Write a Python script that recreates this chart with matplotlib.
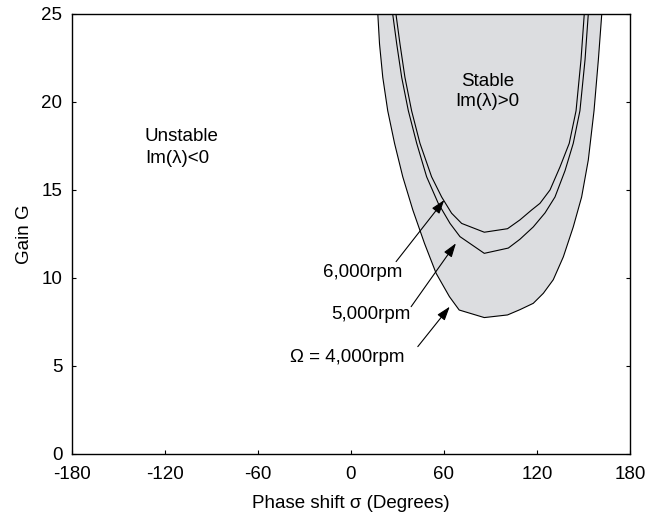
import numpy as np
import matplotlib
matplotlib.use("Agg")
import matplotlib.pyplot as plt

plt.rcParams["font.family"] = ["Liberation Sans", "DejaVu Sans"]
plt.rcParams["axes.unicode_minus"] = False

# Stability boundaries (phase shift in degrees, gain G)
phase_4000 = [17.3, 18.4, 20.5, 23.7, 28.1, 33.4, 39.9, 47.4, 54.9, 63.5, 69.8,
              86.0, 101.0, 109.0, 117.6, 124.1, 130.5, 137.0, 143.4, 148.8,
              153.1, 156.8, 159.6, 161.8]
gain_4000 = [25.0, 23.3, 21.4, 19.5, 17.65, 15.75, 13.86, 11.97, 10.27, 8.94, 8.18,
             7.75, 7.9, 8.2, 8.56, 9.13, 9.9, 11.2, 12.9, 14.6,
             16.7, 19.5, 22.4, 25.0]

phase_5000 = [26.9, 29.5, 32.7, 37.0, 42.4, 48.8, 56.3, 63.9, 70.3, 86.0, 101.5,
              109.0, 117.6, 125.2, 131.6, 138.1, 143.4, 147.7, 151.0, 153.1]
gain_5000 = [25.0, 23.3, 21.4, 19.5, 17.65, 15.75, 14.24, 13.1, 12.35, 11.4, 11.7,
             12.2, 12.9, 13.7, 14.6, 16.1, 17.65, 19.5, 22.4, 25.0]

phase_6000 = [29.0, 31.6, 34.8, 39.1, 44.5, 52.0, 58.5, 64.9, 71.4, 86.0, 101.0,
              109.0, 116.5, 121.9, 128.4, 134.8, 140.8, 145.2, 148.4, 150.5]
gain_6000 = [25.0, 23.3, 21.4, 19.5, 17.65, 15.75, 14.6, 13.68, 13.1, 12.6, 12.8,
             13.3, 13.86, 14.24, 15.0, 16.3, 17.65, 19.5, 22.4, 25.0]

x_ticks = [-180, -120, -60, 0, 60, 120, 180]
y_ticks = [0, 5, 10, 15, 20, 25]

fig = plt.figure(figsize=(6.47, 5.18), dpi=100)
ax = fig.add_axes([0.1113, 0.1236, 0.8624, 0.8494])

ax.fill(phase_4000, gain_4000, color="#dcdde0", lw=0)
ax.plot(phase_4000, gain_4000, color="k", lw=0.8)
ax.plot(phase_5000, gain_5000, color="k", lw=0.8)
ax.plot(phase_6000, gain_6000, color="k", lw=0.8)

ax.set_xlim(-180, 180)
ax.set_ylim(0, 25)
ax.set_xticks(x_ticks)
ax.set_yticks(y_ticks)
ax.tick_params(direction="in", length=3, labelsize=13.5, right=True, top=False)
ax.tick_params(axis="x", pad=9)
ax.tick_params(axis="y", pad=7)
for s in ax.spines.values():
    s.set_linewidth(1.0)

ax.set_xlabel("Phase shift σ (Degrees)", fontsize=13.5, labelpad=8)
ax.set_ylabel("Gain G", fontsize=13.5, labelpad=6)

arrow = dict(arrowstyle="-|>,head_length=0.6,head_width=0.2", color="k",
             lw=0.8, mutation_scale=14, shrinkA=0, shrinkB=0)
ax.annotate("", xy=(60.2, 14.43), xytext=(29.1, 10.93), arrowprops=arrow)
ax.annotate("", xy=(67.7, 11.97), xytext=(38.8, 8.37), arrowprops=arrow)
ax.annotate("", xy=(63.7, 8.37), xytext=(43.1, 6.1), arrowprops=arrow)

ax.text(7.4, 10.3, "6,000rpm", fontsize=13.5, ha="center", va="center")
ax.text(13.0, 7.9, "5,000rpm", fontsize=13.5, ha="center", va="center")
ax.text(-2.3, 5.5, "Ω = 4,000rpm", fontsize=13.5, ha="center", va="center")

ax.text(87.9, 20.6, "Stable\nIm(λ)>0", fontsize=13.5, ha="center", va="center",
        linespacing=1.2)
ax.text(-133, 17.4, "Unstable\nIm(λ)<0", fontsize=13.5, ha="left", va="center",
        linespacing=1.4)

fig.savefig("out.png", dpi=100)
